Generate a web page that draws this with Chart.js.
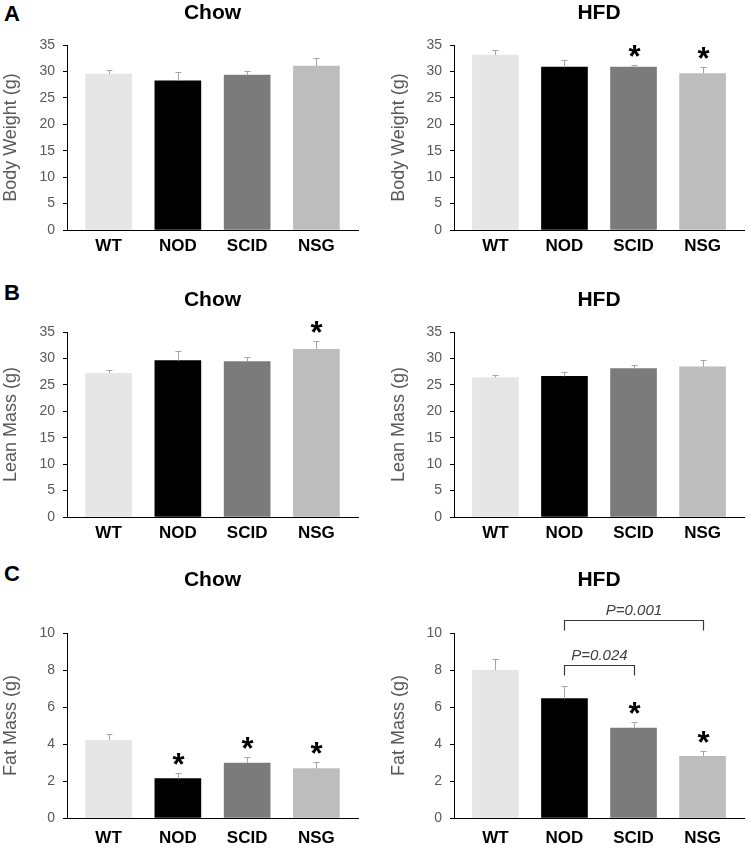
<!DOCTYPE html>
<html>
<head>
<meta charset="utf-8">
<script src="https://cdn.jsdelivr.net/npm/chart.js@4/dist/chart.umd.min.js"></script>
<style>
  body { margin: 0; background: #fff; }
  #fig { position: relative; width: 750px; height: 848px; font-family: 'Liberation Sans', Arial, sans-serif; }
  #fig canvas { position: absolute; }
  .tag { position: absolute; font-weight: bold; font-size: 22px; line-height: 22px; color: #000; }
</style>
</head>
<body>
<div id="fig">
  <span class="tag" style="left:4px;top:3px">A</span>
  <span class="tag" style="left:4px;top:282px">B</span>
  <span class="tag" style="left:4px;top:563px">C</span>
  <canvas id="a1" width="375" height="280" style="left:0;top:0"></canvas>
  <canvas id="a2" width="375" height="280" style="left:375px;top:0"></canvas>
  <canvas id="b1" width="375" height="280" style="left:0;top:280px"></canvas>
  <canvas id="b2" width="375" height="280" style="left:375px;top:280px"></canvas>
  <canvas id="c1" width="375" height="288" style="left:0;top:560px"></canvas>
  <canvas id="c2" width="375" height="288" style="left:375px;top:560px"></canvas>
</div>
<script>
// ── Data ──────────────────────────────────────────────────────────────────

const groups    = ['WT', 'NOD', 'SCID', 'NSG'];
const barColors = ['#e6e6e6', '#000000', '#7b7b7b', '#bdbdbd'];

const bwChow      = [29.5, 28.2, 29.3, 31.0];
const bwChowSem   = [0.8, 1.7, 0.8, 1.6];
const bwHfd       = [33.1, 30.8, 30.8, 29.6];
const bwHfdSem    = [0.9, 1.3, 0.5, 1.2];
const bwHfdSig    = [0, 0, 1, 1];

const leanChow    = [27.2, 29.6, 29.4, 31.7];
const leanChowSem = [0.6, 1.9, 0.9, 1.6];
const leanChowSig = [0, 0, 0, 1];
const leanHfd     = [26.4, 26.6, 28.1, 28.4];
const leanHfdSem  = [0.5, 0.8, 0.6, 1.3];

const fatChow     = [4.2, 2.13, 2.97, 2.67];
const fatChowSem  = [0.36, 0.32, 0.33, 0.36];
const fatChowSig  = [0, 1, 1, 1];
const fatHfd      = [7.98, 6.45, 4.86, 3.33];
const fatHfdSem   = [0.6, 0.7, 0.33, 0.29];
const fatHfdSig   = [0, 0, 1, 1];

// pairwise comparisons: group indices (1-based), bracket height (g), label
const fatHfdPairs = [
  { from: 2, to: 3, at: 8.25,  label: 'P=0.024' },
  { from: 2, to: 4, at: 10.68, label: 'P=0.001' },
];

Chart.defaults.font.family = "'Liberation Sans', Arial, sans-serif";

// ── Error bars, asterisks, brackets ───────────────────────────────────────

const annot = {
  id: 'annot',
  afterDraw(chart, args, o) {
    const ctx = chart.ctx, xs = chart.scales.x, ys = chart.scales.y;
    const pts = chart.data.datasets[0].data;
    ctx.save();
    pts.forEach((p, i) => {
      const x  = Math.round(xs.getPixelForValue(p.x)) + 0.5;
      const y0 = ys.getPixelForValue(p.y);
      const y1 = Math.round(ys.getPixelForValue(p.y + o.sem[i])) + 0.5;
      ctx.strokeStyle = '#a6a6a6';
      ctx.lineWidth = 1;
      ctx.beginPath();
      ctx.moveTo(x, y0); ctx.lineTo(x, y1);
      ctx.moveTo(x - 3, y1); ctx.lineTo(x + 3, y1);
      ctx.stroke();
      if (o.sig && o.sig[i]) {
        ctx.fillStyle = '#000';
        ctx.font = 'bold 31px ' + Chart.defaults.font.family;
        ctx.textAlign = 'center';
        ctx.textBaseline = 'alphabetic';
        const m = ctx.measureText('*');
        const yc = y1 - 15;
        ctx.fillText('*', x, yc + (m.actualBoundingBoxAscent - m.actualBoundingBoxDescent) / 2);
      }
    });
    (o.pairs || []).forEach(b => {
      const xa = Math.round(xs.getPixelForValue(b.from)) + 0.5;
      const xb = Math.round(xs.getPixelForValue(b.to)) + 0.5;
      const y  = Math.round(ys.getPixelForValue(b.at)) + 0.5;
      ctx.strokeStyle = '#3a3a3a';
      ctx.lineWidth = 1.2;
      ctx.beginPath();
      ctx.moveTo(xa, y + 10); ctx.lineTo(xa, y); ctx.lineTo(xb, y); ctx.lineTo(xb, y + 10);
      ctx.stroke();
      ctx.fillStyle = '#404040';
      ctx.font = 'italic 15px ' + Chart.defaults.font.family;
      ctx.textAlign = 'center';
      ctx.textBaseline = 'alphabetic';
      ctx.fillText(b.label, (xa + xb) / 2, y - 6);
    });
    ctx.restore();
  }
};

// ── Panel builder ─────────────────────────────────────────────────────────

const rows = {
  A: { h: 280, titleTop: 1, top: 45, bottom: 230, labelPad: 6 },
  B: { h: 280, titleTop: 7.5, top: 52, bottom: 237, labelPad: 6.5 },
  C: { h: 288, titleTop: 7.5, top: 73, bottom: 258, labelPad: 10 },
};

function panel(id, row, side, title, yLabel, vals, sem, yMax, step, sig, pairs) {
  const r = rows[row];
  const left  = side === 'L' ? 67 : 79;
  const right = side === 'L' ? 17 : 6;
  new Chart(document.getElementById(id), {
    type: 'bar',
    data: {
      datasets: [{
        data: vals.map((v, i) => ({ x: i + 1, y: v })),
        backgroundColor: barColors,
        borderWidth: 0,
        barThickness: 46,
      }],
    },
    options: {
      responsive: false,
      animation: false,
      layout: { padding: { left: 0, right: right, top: 0, bottom: 0 } },
      plugins: {
        legend: { display: false },
        tooltip: { enabled: false },
        title: {
          display: true, text: title, fullSize: false, color: '#000',
          font: { size: 21, weight: 'bold', lineHeight: 1.2 },
          padding: { top: r.titleTop, bottom: r.top - r.titleTop - 25.2 },
        },
        annot: { sem: sem, sig: sig, pairs: pairs },
      },
      scales: {
        x: {
          type: 'linear', min: 0.4, max: 4.6, offset: false,
          afterBuildTicks: s => { s.ticks = groups.map((g, i) => ({ value: i + 1 })); },
          afterFit: s => { s.height = r.h - r.bottom; },
          grid: { display: false, drawTicks: false, offset: false },
          border: { color: '#000', width: 1 },
          ticks: {
            padding: r.labelPad, color: '#000', autoSkip: false, maxRotation: 0,
            font: { size: 17, weight: 'bold' },
            callback: v => groups[v - 1],
          },
        },
        y: {
          min: 0, max: yMax,
          afterFit: s => { s.width = left; },
          grid: { drawOnChartArea: false, drawTicks: true, tickLength: 4, color: '#000' },
          border: { color: '#000', width: 1 },
          ticks: { stepSize: step, padding: 8, color: '#595959', font: { size: 14 } },
          title: {
            display: true, text: yLabel, color: '#595959',
            font: { size: 18 },
            padding: { top: side === 'L' ? 0 : 13, bottom: 0 },
          },
        },
      },
    },
    plugins: [annot],
  });
}

panel('a1', 'A', 'L', 'Chow', 'Body Weight (g)', bwChow,   bwChowSem,   35, 5, null);
panel('a2', 'A', 'R', 'HFD',  'Body Weight (g)', bwHfd,    bwHfdSem,    35, 5, bwHfdSig);
panel('b1', 'B', 'L', 'Chow', 'Lean Mass (g)',   leanChow, leanChowSem, 35, 5, leanChowSig);
panel('b2', 'B', 'R', 'HFD',  'Lean Mass (g)',   leanHfd,  leanHfdSem,  35, 5, null);
panel('c1', 'C', 'L', 'Chow', 'Fat Mass (g)',    fatChow,  fatChowSem,  10, 2, fatChowSig);
panel('c2', 'C', 'R', 'HFD',  'Fat Mass (g)',    fatHfd,   fatHfdSem,   10, 2, fatHfdSig, fatHfdPairs);
</script>
</body>
</html>
